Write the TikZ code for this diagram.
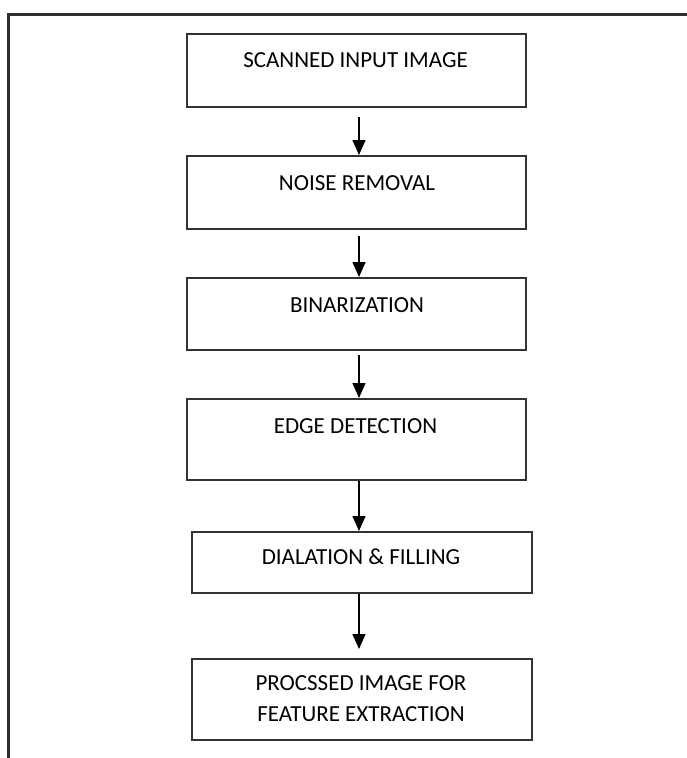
\documentclass[tikz,border=0pt]{standalone}
\usepackage{fontspec}
\setmainfont{Carlito}
\usetikzlibrary{arrows.meta}
\definecolor{edgegray}{RGB}{50,50,50}
\definecolor{framegray}{RGB}{45,45,45}
\begin{document}
\begin{tikzpicture}[x=1pt,y=-1pt,
  stepbox/.style={draw=edgegray,line width=2pt,fill=white,inner sep=0pt,anchor=north west},
  steptext/.style={font=\fontsize{23}{31}\selectfont,text=black,inner sep=0pt,align=center},
  flow/.style={-{Triangle[length=15pt,width=13pt]},line width=1.5pt,draw=black},
  frame/.style={draw=framegray,line width=3pt}]
  % page extent
  \useasboundingbox (0,0) rectangle (687,758);
  % open frame: top and left edges only
  \draw[frame] (687,14) -- (8,14) -- (8,758);

  % process boxes
  \node[stepbox,minimum width=339pt,minimum height=73pt] (b1) at (186,33) {};
  \node[stepbox,minimum width=339pt,minimum height=73pt] (b2) at (186,155) {};
  \node[stepbox,minimum width=339pt,minimum height=72pt] (b3) at (186,277) {};
  \node[stepbox,minimum width=339pt,minimum height=81pt] (b4) at (186,398) {};
  \node[stepbox,minimum width=340pt,minimum height=61pt] (b5) at (191,531) {};
  \node[stepbox,minimum width=340pt,minimum height=81pt] (b6) at (191,658) {};

  % box captions
  \node[steptext] (t1) at (355.5,60) {SCANNED INPUT IMAGE};
  \node[steptext] (t2) at (357,183) {NOISE REMOVAL};
  \node[steptext] (t3) at (357,305) {BINARIZATION};
  \node[steptext] (t4) at (355.5,426) {EDGE DETECTION};
  \node[steptext] (t5) at (361,557) {DIALATION \& FILLING};
  \node[steptext] (t6) at (361,699) {PROCSSED IMAGE FOR\\FEATURE EXTRACTION};

  % arrows between the steps
  \coordinate (ax) at (359,0);
  \draw[flow] ([yshift=-9pt]b1.south -| ax) -- (b2.north -| ax);
  \draw[flow] ([yshift=-6pt]b2.south -| ax) -- (b3.north -| ax);
  \draw[flow] ([yshift=-4pt]b3.south -| ax) -- (b4.north -| ax);
  \draw[flow] (b4.south -| ax) -- (b5.north -| ax);
  \draw[flow] (b5.south -| ax) -- ([yshift=9pt]b6.north -| ax);
\end{tikzpicture}
\end{document}
